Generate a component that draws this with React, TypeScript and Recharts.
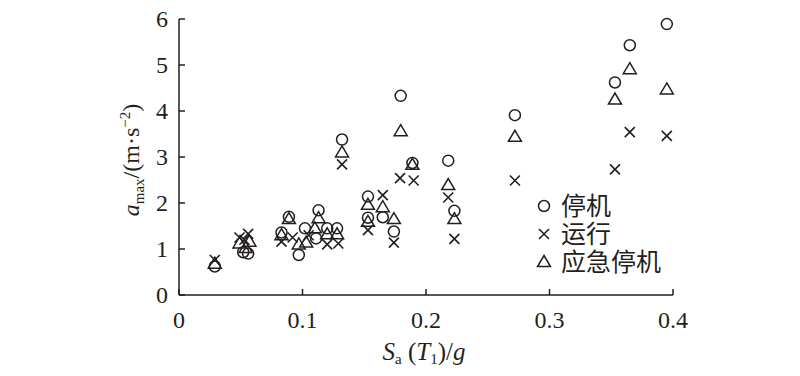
import { ScatterChart, Scatter, XAxis, YAxis, Label } from "recharts"

// 停机
const stopX = [0.029, 0.052, 0.056, 0.083, 0.089, 0.097, 0.102, 0.111, 0.113, 0.12, 0.128, 0.132, 0.153, 0.153, 0.165, 0.174, 0.1795, 0.189, 0.218, 0.223, 0.272, 0.353, 0.365, 0.395]
const stopY = [0.62, 0.93, 0.9, 1.36, 1.7, 0.87, 1.45, 1.23, 1.84, 1.45, 1.45, 3.38, 2.14, 1.68, 1.69, 1.38, 4.33, 2.87, 2.92, 1.83, 3.91, 4.62, 5.43, 5.89]

// 运行
const runX = [0.029, 0.049, 0.056, 0.053, 0.083, 0.092, 0.105, 0.12, 0.129, 0.132, 0.153, 0.165, 0.174, 0.179, 0.19, 0.218, 0.223, 0.272, 0.353, 0.365, 0.395]
const runY = [0.76, 1.25, 1.33, 1.2, 1.16, 1.25, 1.3, 1.1, 1.12, 2.84, 1.41, 2.17, 1.14, 2.54, 2.49, 2.12, 1.22, 2.49, 2.73, 3.54, 3.46]

// 应急停机
const emgX = [0.029, 0.049, 0.054, 0.057, 0.083, 0.089, 0.097, 0.103, 0.11, 0.113, 0.12, 0.128, 0.132, 0.153, 0.153, 0.165, 0.174, 0.1795, 0.189, 0.218, 0.223, 0.272, 0.353, 0.365, 0.395]
const emgY = [0.68, 1.12, 1.02, 1.16, 1.3, 1.65, 1.1, 1.14, 1.45, 1.67, 1.32, 1.32, 3.1, 1.96, 1.59, 1.91, 1.65, 3.56, 2.83, 2.39, 1.65, 3.44, 4.25, 4.91, 4.47]

const xTicks = [0, 0.1, 0.2, 0.3, 0.4]
const yTicks = [0, 1, 2, 3, 4, 5, 6]

const INK = "#231f20"
const SERIF = "Liberation Serif"
const CJK = "Noto Sans CJK SC"

const toPoints = (xs: number[], ys: number[]) => xs.map((x, i) => ({ x, y: ys[i] }))

const CircleMark = ({ cx, cy }: any) => (
  <circle cx={cx} cy={cy} r={5.5} fill="none" stroke={INK} strokeWidth={1.5} />
)

const CrossMark = ({ cx, cy }: any) => {
  const d = 5
  return (
    <path
      d={`M${cx - d},${cy - d}L${cx + d},${cy + d}M${cx - d},${cy + d}L${cx + d},${cy - d}`}
      stroke={INK}
      strokeWidth={1.6}
      fill="none"
    />
  )
}

const TriMark = ({ cx, cy }: any) => (
  <path
    d={`M${cx},${cy - 6.5}L${cx + 6.5},${cy + 4.5}L${cx - 6.5},${cy + 4.5}Z`}
    stroke={INK}
    strokeWidth={1.5}
    fill="none"
  />
)

const legendItems = [
  { name: "停机", Mark: CircleMark },
  { name: "运行", Mark: CrossMark },
  { name: "应急停机", Mark: TriMark },
]

// 图例（覆盖在图上，不占布局）
const LegendBox = () => (
  <svg width={160} height={110} style={{ position: "absolute", left: 530, top: 185, overflow: "visible" }}>
    {legendItems.map((it, i) => (
      <g key={it.name}>
        <it.Mark cx={14} cy={21 + i * 28} />
        <text x={31} y={21 + i * 28} dy="0.36em" fontFamily={CJK} fontSize={25} fill={INK}>
          {it.name}
        </text>
      </g>
    ))}
  </svg>
)

const XTick = ({ x, y, payload }: any) => (
  <text x={x} y={y} dy="0.71em" textAnchor="middle" fontFamily={SERIF} fontSize={24} fill={INK}>
    {payload.value === 0 ? "0" : payload.value.toFixed(1)}
  </text>
)

const YTick = ({ x, y, payload }: any) => (
  <text x={x} y={y} dy="0.35em" textAnchor="end" fontFamily={SERIF} fontSize={24} fill={INK}>
    {payload.value}
  </text>
)

const YTitle = ({ viewBox }: any) => {
  const cx = 131
  const cy = viewBox.y + 141
  return (
    <text x={cx} y={cy} transform={`rotate(-90 ${cx} ${cy})`} textAnchor="middle" dy="0.35em" fontFamily={SERIF} fontSize={24} fill={INK}>
      <tspan fontStyle="italic">a</tspan>
      <tspan fontSize={15} dy={5}>max</tspan>
      <tspan dy={-5}>/(m·s</tspan>
      <tspan fontSize={15} dy={-9}>−2</tspan>
      <tspan dy={9}>)</tspan>
    </text>
  )
}

const XTitle = ({ viewBox }: any) => {
  const cx = viewBox.x + viewBox.width / 2 - 2
  return (
    <text x={cx} y={360} textAnchor="middle" fontFamily={SERIF} fontSize={25} fill={INK}>
      <tspan fontStyle="italic">S</tspan>
      <tspan fontSize={15} dy={4}>a</tspan>
      <tspan dy={-4}> (</tspan>
      <tspan fontStyle="italic">T</tspan>
      <tspan fontSize={15} dy={4}>1</tspan>
      <tspan dy={-4}>)/</tspan>
      <tspan fontStyle="italic">g</tspan>
    </text>
  )
}

export default function App() {
  return (
    <div style={{ position: "absolute", left: 0, top: 0, width: 800, height: 376, background: "#fff" }}>
      <ScatterChart width={800} height={376} margin={{ top: 19, right: 127, bottom: 41, left: 119 }}>
        <XAxis
          type="number"
          dataKey="x"
          domain={[0, 0.4]}
          ticks={xTicks}
          height={40}
          axisLine={{ stroke: INK, strokeWidth: 1.5 }}
          tickLine={{ stroke: INK, strokeWidth: 1.5 }}
          tickSize={-6}
          tickMargin={22}
          tick={<XTick />}
          interval={0}
        >
          <Label content={<XTitle />} />
        </XAxis>
        <YAxis
          type="number"
          dataKey="y"
          domain={[0, 6]}
          ticks={yTicks}
          width={60}
          axisLine={{ stroke: INK, strokeWidth: 1.5 }}
          tickLine={{ stroke: INK, strokeWidth: 1.5 }}
          tickSize={-6}
          tickMargin={17}
          tick={<YTick />}
          interval={0}
        >
          <Label content={<YTitle />} />
        </YAxis>
        <Scatter name="停机" data={toPoints(stopX, stopY)} shape={<CircleMark />} isAnimationActive={false} />
        <Scatter name="运行" data={toPoints(runX, runY)} shape={<CrossMark />} isAnimationActive={false} />
        <Scatter name="应急停机" data={toPoints(emgX, emgY)} shape={<TriMark />} isAnimationActive={false} />
      </ScatterChart>
      <LegendBox />
    </div>
  )
}
